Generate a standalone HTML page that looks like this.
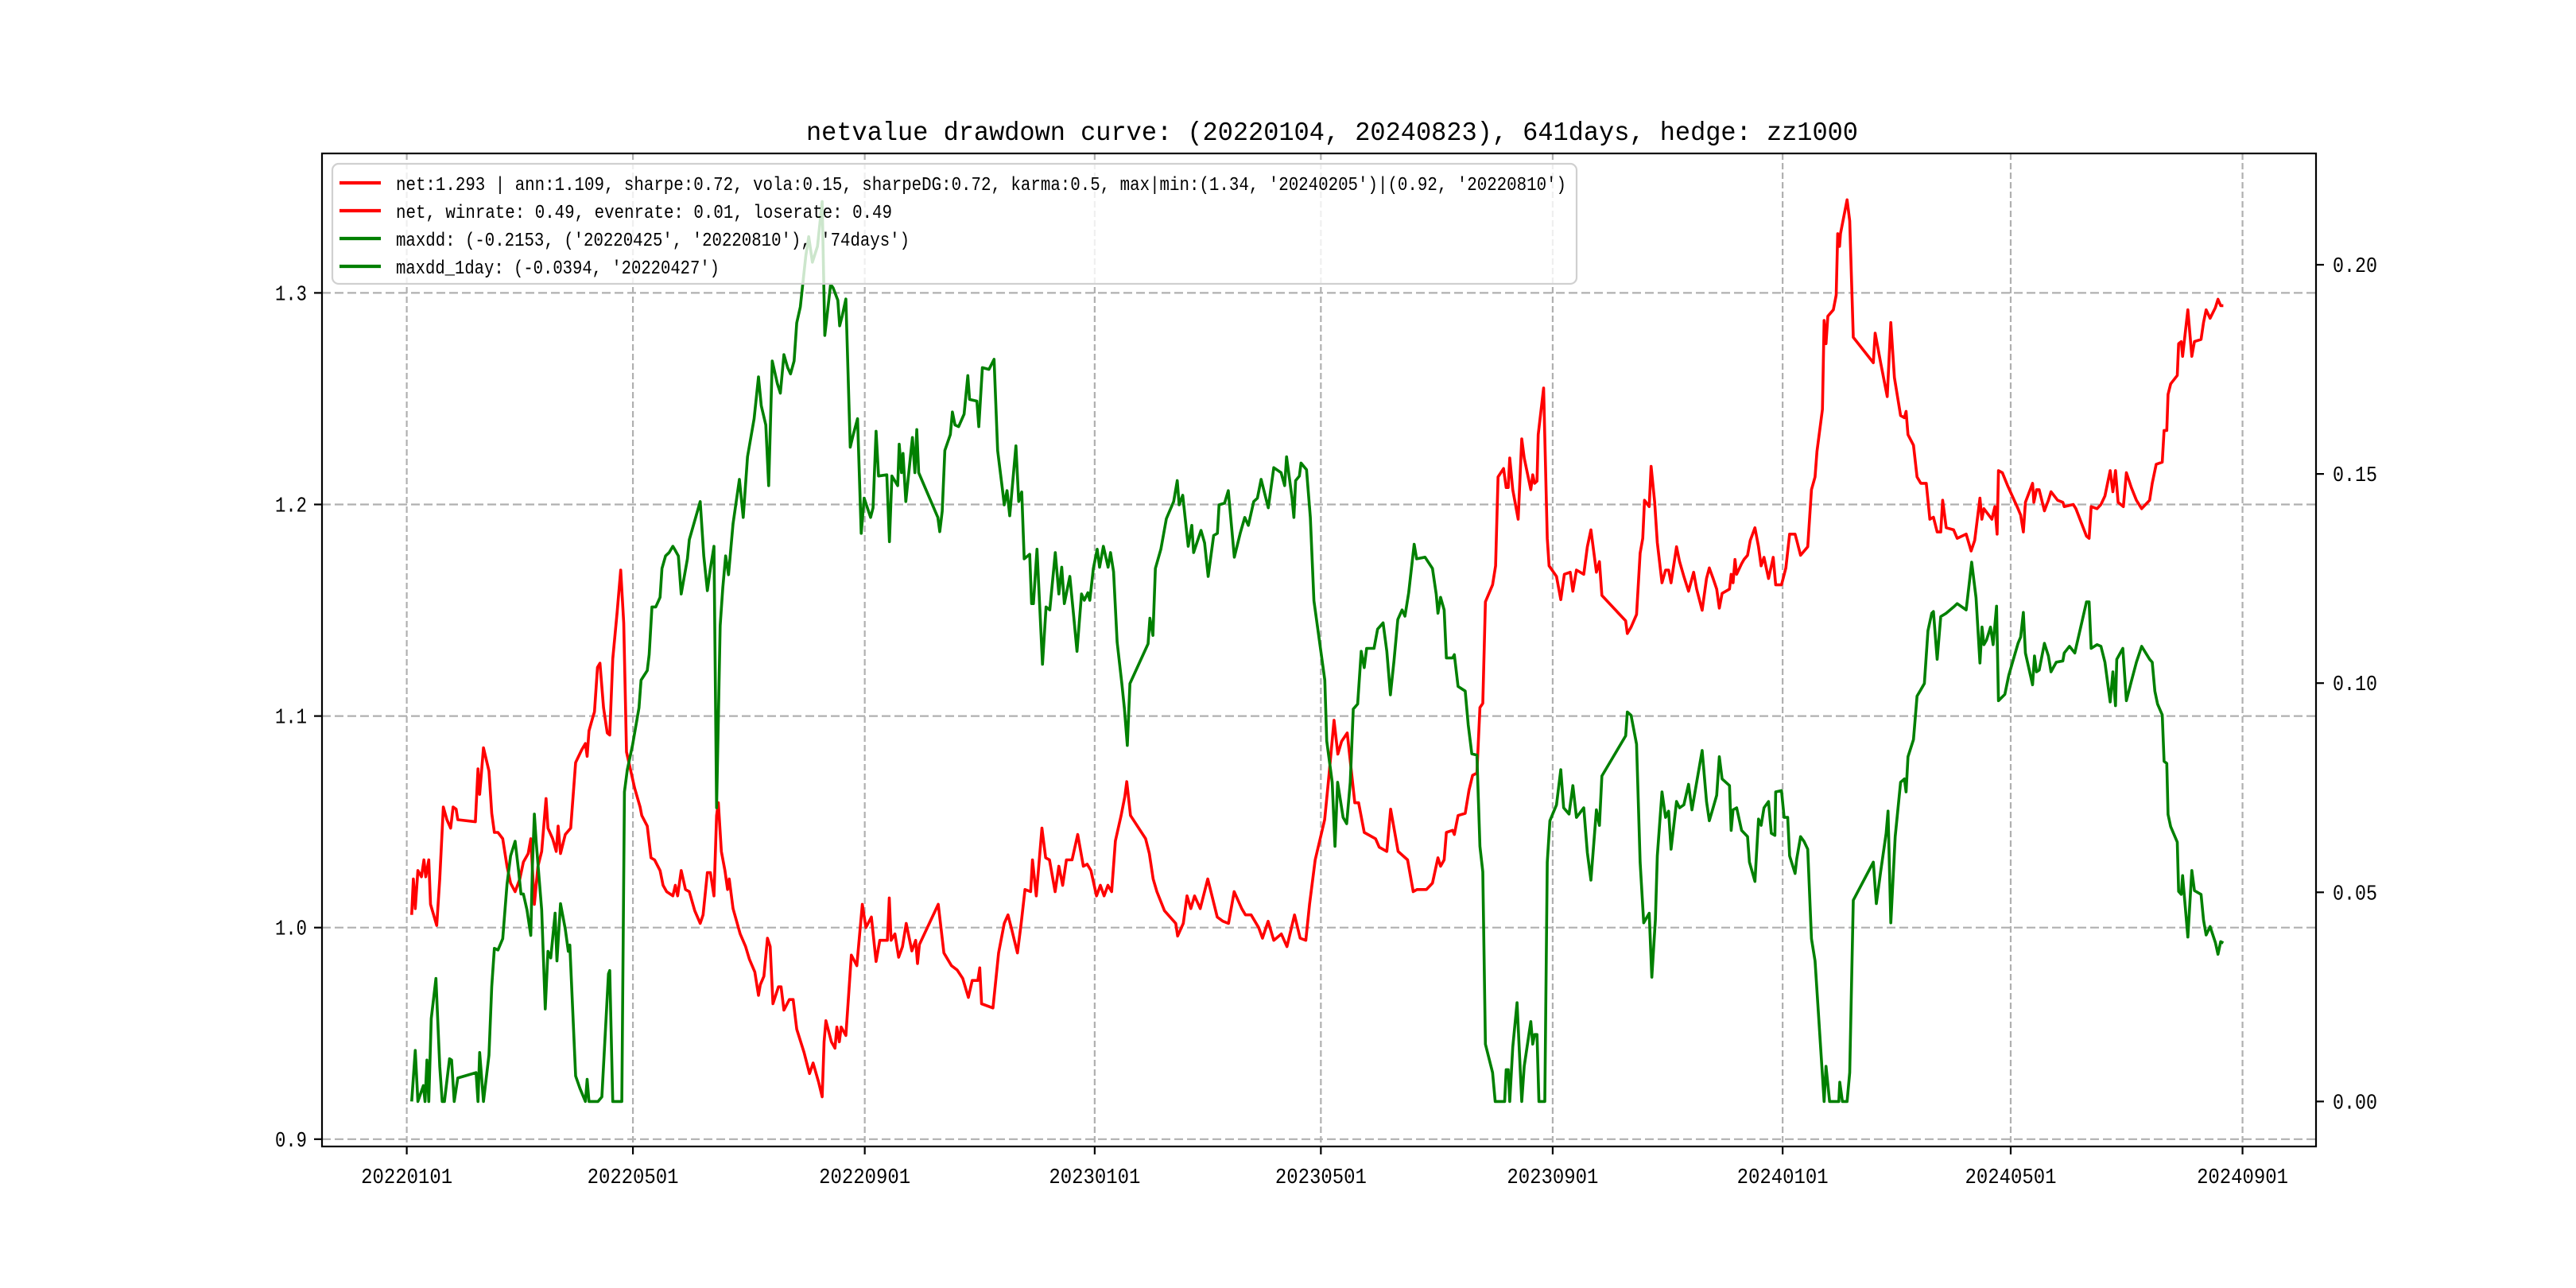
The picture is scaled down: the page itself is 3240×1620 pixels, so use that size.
<!DOCTYPE html>
<html><head><meta charset="utf-8"><title>netvalue drawdown curve</title>
<style>html,body{margin:0;padding:0;background:#fff}svg{display:block}
text{font-family:"Liberation Mono","DejaVu Sans Mono",monospace;fill:#000}</style></head>
<body>
<svg id="chart" xmlns="http://www.w3.org/2000/svg" width="3240" height="1620" viewBox="0 0 3240 1620">
<rect x="0" y="0" width="3240" height="1620" fill="#fff"/>
<g id="grid"></g>
<g id="series"></g>
<g id="axes"></g>
<text x="1014" y="176" font-size="33" textLength="1323" lengthAdjust="spacingAndGlyphs">netvalue drawdown curve: (20220104, 20240823), 641days, hedge: zz1000</text>
<g id="legend">
<rect x="418" y="206" width="1565" height="151" rx="8" fill="#fff" fill-opacity="0.8" stroke="#d0d0d0" stroke-width="2.2"/>
<line x1="427" y1="230" x2="479" y2="230" stroke="#ff0000" stroke-width="4.2"/>
<text x="498" y="239" font-size="24" textLength="1472" lengthAdjust="spacingAndGlyphs">net:1.293 | ann:1.109, sharpe:0.72, vola:0.15, sharpeDG:0.72, karma:0.5, max|min:(1.34, '20240205')|(0.92, '20220810')</text>
<line x1="427" y1="265" x2="479" y2="265" stroke="#ff0000" stroke-width="4.2"/>
<text x="498" y="274" font-size="24" textLength="624" lengthAdjust="spacingAndGlyphs">net, winrate: 0.49, evenrate: 0.01, loserate: 0.49</text>
<line x1="427" y1="300" x2="479" y2="300" stroke="#008000" stroke-width="4.2"/>
<text x="498" y="309" font-size="24" textLength="646" lengthAdjust="spacingAndGlyphs">maxdd: (-0.2153, ('20220425', '20220810'), '74days')</text>
<line x1="427" y1="335" x2="479" y2="335" stroke="#008000" stroke-width="4.2"/>
<text x="498" y="344" font-size="24" textLength="407" lengthAdjust="spacingAndGlyphs">maxdd_1day: (-0.0394, '20220427')</text>
</g>
</svg>
<script>
// x tick labels and their day offsets from 2022-01-01
const xTickLabels = ["20220101","20220501","20220901","20230101","20230501","20230901","20240101","20240501","20240901"];
const xTickDays = [0,120,243,365,485,608,730,851,974];
const leftTicks = [0.9,1.0,1.1,1.2,1.3];
const leftTickLabels = ["0.9","1.0","1.1","1.2","1.3"];
const rightTicks = [0,0.05,0.10,0.15,0.20];
const rightTickLabels = ["0.00","0.05","0.10","0.15","0.20"];
// net value series (days since 2022-01-01)
const netDays = [2.6,3.5,4.5,5.9,7.8,9.1,10.1,11.7,12.6,15.9,17.5,19.4,21.3,23.3,24.6,26.2,27.1,36.4,37.8,38.7,40.7,43.6,45.1,46.5,48.4,50.9,53.2,55.1,57.5,60.0,61.9,64.4,65.8,67.7,69.6,71.6,73.9,74.9,77.4,79.3,80.3,81.6,84.1,87.0,89.6,92.8,94.8,95.7,96.7,98.6,99.6,101.2,102.5,104.4,106.4,107.7,109.3,111.6,113.5,115.1,116.6,120.9,123.8,124.7,127.6,129.6,131.5,134.4,136.0,137.9,141.2,142.5,143.7,145.6,147.9,149.9,152.8,155.7,157.2,159.5,161.1,163.0,164.4,165.3,166.9,168.8,170.2,171.1,173.1,176.9,179.8,181.8,184.7,186.6,187.6,189.5,191.4,192.8,194.3,197.2,198.6,200.1,203.0,205.0,206.9,210.8,213.7,215.6,218.5,220.4,221.4,222.4,225.3,227.2,228.2,229.5,230.5,233.0,235.9,238.8,241.7,243.6,246.5,
249,251,255,256,257,259,261,263,265,268,270,271,272,282,285,289,292,295,298,300,303,304,305,311,314,317,319,321,324,326,328,331,332,334,337,339,341,344,346,348,350,353,356,359,361,363,366,368,370,372,374,376,379,381,382,384,392,394,396,398,402,408,409,412,414,416,418,421,425,430,433,436,439,443,445,448,452,454,457,460,464,467,471,474,477,479,482,487,489,492,494,496,499,503,505,508,514,516,520,522,526,531,534,536,541,
544.2,547.1,548.5,550.4,551.6,554.9,555.8,557.8,561.6,563.6,565.5,567.8,569.4,570.9,572.3,576.1,577.7,579.0,581.9,583.3,584.4,585.2,586.8,589.7,591.6,592.9,596.4,597.4,598.4,599.7,600.3,603.2,605.1,606.1,610.0,612.3,614.2,617.3,618.7,620.6,624.5,626.4,628.3,631.2,632.8,634.1,646.7,647.6,649.6,652.5,654.4,655.8,656.7,659.2,660.2,662.1,663.5,666.0,667.9,669.5,670.8,673.7,675.3,677.6,680.1,682.8,684.4,687.3,689.6,691.1,693.1,695.0,696.4,697.9,701.8,702.7,703.7,704.7,705.6,708.2,709.5,711.4,712.8,715.3,717.2,718.6,720.1,722.5,725.0,726.3,729.4,731.7,733.7,736.6,737.5,739.5,743.3,745.3,747.2,748.2,751.1,752.0,753.0,754.0,756.9,758.4,759.2,760.2,760.7,764.2,765.6,767.5,778.1,779.1,782.0,785.5,787.4,789.3,792.6,794.6,795.5,796.5,799.4,801.3,803.3,806.2,808.1,810.0,812.0,813.9,814.9,816.8,820.7,822.6,827.4,830.0,
831.9,834.7,835.7,836.8,841.0,842.6,843.8,844.5,846.6,849.3,854.9,856.3,857.7,858.8,862.6,863.3,864.7,866.1,868.9,871.0,872.4,875.9,878.7,879.4,884.2,885.6,891.2,892.6,893.7,896.8,898.9,901.0,903.8,905.2,906.6,908.0,910.8,912.4,915.0,917.7,920.5,924.7,926.1,928.2,931.4,932.4,933.8,934.5,935.9,939.4,940.1,941.5,942.2,945.0,947.1,948.5,952.0,953.3,954.7,956.8,959.6,961.0,962.4,963.8];
const netValues = [1.006,1.023,1.009,1.027,1.024,1.032,1.024,1.032,1.011,1.001,1.023,1.057,1.051,1.047,1.057,1.056,1.051,1.050,1.075,1.063,1.085,1.074,1.054,1.045,1.045,1.042,1.029,1.021,1.017,1.023,1.031,1.035,1.042,1.011,1.029,1.036,1.061,1.047,1.042,1.036,1.048,1.035,1.044,1.047,1.078,1.084,1.087,1.081,1.093,1.099,1.102,1.123,1.125,1.104,1.092,1.091,1.127,1.149,1.169,1.144,1.083,1.066,1.057,1.053,1.048,1.033,1.032,1.027,1.020,1.017,1.015,1.020,1.015,1.027,1.018,1.017,1.008,1.002,1.006,1.026,1.026,1.015,1.053,1.059,1.036,1.027,1.018,1.023,1.009,0.997,0.991,0.985,0.979,0.968,0.973,0.977,0.995,0.991,0.964,0.972,0.972,0.961,0.966,0.966,0.952,0.941,0.931,0.936,0.927,0.920,0.946,0.956,0.946,0.943,0.953,0.946,0.953,0.949,0.987,0.982,1.011,1.0,1.005,
0.984,0.994,0.994,1.014,0.994,0.997,0.986,0.991,1.002,0.989,0.994,0.983,0.992,1.011,0.988,0.982,0.980,0.976,0.967,0.975,0.975,0.981,0.964,0.962,0.988,1.002,1.006,0.999,0.988,1.002,1.018,1.017,1.032,1.015,1.047,1.033,1.032,1.017,1.029,1.020,1.032,1.032,1.044,1.029,1.030,1.027,1.015,1.020,1.015,1.020,1.017,1.041,1.053,1.062,1.069,1.053,1.042,1.035,1.023,1.017,1.008,1.002,0.996,1.002,1.015,1.009,1.015,1.009,1.023,1.005,1.003,1.002,1.017,1.009,1.006,1.006,1.0,0.995,1.003,0.994,0.997,0.991,1.006,0.995,0.994,1.011,1.032,1.051,1.069,1.098,1.082,1.088,1.092,1.059,1.059,1.045,1.042,1.038,1.036,1.056,1.036,1.032,1.017,1.018,1.018,
1.021,1.033,1.029,1.032,1.045,1.046,1.044,1.053,1.054,1.065,1.072,1.073,1.104,1.106,1.154,1.162,1.171,1.213,1.217,1.208,1.208,1.222,1.207,1.193,1.231,1.222,1.207,1.214,1.210,1.211,1.233,1.255,1.184,1.171,1.166,1.155,1.167,1.168,1.159,1.169,1.167,1.180,1.188,1.168,1.173,1.157,1.145,1.139,1.142,1.148,1.177,1.184,1.202,1.199,1.218,1.201,1.182,1.163,1.169,1.169,1.163,1.180,1.173,1.166,1.159,1.168,1.160,1.150,1.165,1.170,1.165,1.160,1.151,1.158,1.160,1.167,1.163,1.174,1.167,1.172,1.174,1.176,1.183,1.189,1.180,1.171,1.175,1.165,1.175,1.162,1.162,1.170,1.186,1.186,1.183,1.176,1.180,1.207,1.213,1.225,1.245,1.287,1.276,1.289,1.292,1.299,1.328,1.322,1.328,1.344,1.334,1.279,1.267,1.281,1.267,1.251,1.286,1.260,1.242,1.241,1.244,1.233,1.228,1.213,1.210,1.210,1.193,1.194,1.187,1.187,1.202,1.189,1.188,1.184,1.186,1.178,
1.183,1.203,1.193,1.198,1.193,1.199,1.186,1.216,1.215,1.209,1.198,1.195,1.187,1.201,1.210,1.201,1.207,1.207,1.197,1.202,1.206,1.202,1.201,1.199,1.200,1.198,1.185,1.184,1.199,1.198,1.200,1.204,1.216,1.206,1.216,1.201,1.199,1.215,1.208,1.202,1.198,1.202,1.210,1.219,1.220,1.235,1.235,1.252,1.257,1.261,1.276,1.277,1.270,1.292,1.270,1.277,1.278,1.286,1.292,1.288,1.293,1.297,1.294,1.294];
// drawdown series (right axis)
const ddDays = [2.6,4.5,5.9,8.8,9.7,10.7,11.7,13.0,15.5,17.5,18.8,20.0,22.7,23.8,25.2,27.1,36.8,37.8,38.7,40.7,43.6,45.1,46.5,48.4,50.9,53.2,55.1,57.5,59.4,60.6,61.9,63.8,65.8,66.7,67.7,68.7,71.6,73.5,74.9,76.4,78.7,79.7,81.6,84.1,85.7,86.5,89.6,91.9,94.8,95.7,96.7,101.5,103.5,107.0,107.7,109.3,114.1,115.5,117.0,119.9,123.2,124.3,127.6,128.6,130.1,132.1,134.4,135.4,137.3,139.2,141.2,142.1,144.1,145.6,148.9,149.9,155.7,157.6,159.5,161.1,163.0,164.4,166.3,167.7,169.2,170.7,173.1,176.5,178.5,180.8,184.3,186.6,188.1,190.5,192.0,193.9,196.6,198.2,200.1,202.1,203.6,205.5,206.9,208.8,211.7,213.3,215.2,217.9,220.4,221.8,224.9,226.2,228.7,229.7,231.0,233.0,235.3,236.9,239.2,241.1,242.7,246.1,
247.4,249.0,250.3,254.7,256.1,257.4,260.5,261.3,262.5,263.3,264.8,268.3,269.6,270.6,271.6,281.8,282.8,284.1,285.5,288.4,289.5,290.9,292.8,295.7,297.7,298.6,302.5,303.5,305.4,308.9,311.6,313.5,316.0,317.0,318.5,319.9,323.2,324.7,326.3,327.6,330.5,331.5,332.5,334.4,337.3,339.2,341.2,344.1,346.0,347.5,348.9,351.8,353.7,355.6,358.0,359.5,361.4,362.4,364.3,366.3,367.6,369.6,372.1,373.4,375.0,376.9,379.4,380.8,382.3,383.7,393.3,394.3,395.9,397.2,400.1,403.0,406.9,408.8,409.8,411.7,414.6,416.5,417.5,421.4,423.3,425.2,428.1,430.1,431.0,433.9,435.9,439.1,442.2,444.6,446.5,449.4,451.3,453.3,457.1,460.0,463.9,465.8,466.8,469.7,470.7,471.6,473.6,474.5,477.4,479.4,481.3,487.1,488.1,491.0,492.5,493.9,496.8,498.7,500.6,502.2,504.5,506.4,508.0,509.3,513.2,515.1,518.0,520.0,521.9,523.8,525.8,528.1,529.6,531.6,534.5,535.8,540.3,
544.2,546.2,547.1,548.5,550.4,551.6,554.9,555.8,557.8,561.6,563.2,565.1,567.8,569.4,570.9,572.3,576.1,577.5,582.5,583.3,584.4,585.2,586.8,589.1,591.6,592.9,596.4,597.4,598.4,599.7,600.7,603.8,605.1,606.5,610.0,612.3,613.8,616.7,618.7,620.6,624.5,626.4,628.3,631.2,632.8,634.1,646.7,647.6,649.6,652.5,654.4,656.3,659.2,660.6,662.5,663.5,666.0,667.9,669.5,670.8,673.7,675.3,677.6,680.1,681.9,684.4,687.3,689.6,691.1,693.1,695.0,696.4,697.9,701.8,702.7,703.7,705.6,708.2,711.4,712.4,715.3,717.2,718.6,720.1,722.5,724.0,725.9,726.3,729.4,730.8,732.7,733.7,736.6,737.5,739.5,741.4,743.3,745.3,747.2,752.0,753.0,754.9,759.8,760.3,761.7,764.2,765.6,767.5,778.1,779.7,782.0,784.9,785.9,787.4,789.7,792.6,794.6,795.5,796.5,799.4,801.3,803.3,805.2,807.1,809.1,810.0,812.0,813.9,816.8,820.7,822.6,827.4,830.3,
832.6,834.7,835.8,836.8,838.2,840.3,841.7,843.5,844.5,847.9,850.0,854.9,856.3,857.7,858.8,862.6,863.6,864.7,866.1,868.9,871.0,872.4,875.2,878.7,879.4,882.2,885.0,891.2,892.6,893.7,896.8,898.9,901.0,903.8,905.2,906.6,907.3,910.5,912.4,915.0,917.7,920.5,924.7,926.1,927.5,928.9,931.4,932.4,933.8,934.5,935.9,939.4,940.1,941.5,942.2,945.0,947.1,948.5,952.0,953.3,954.7,956.8,959.6,961.0,962.4,963.8];
const ddValues = [0,0.0122,0,0.0038,0,0.0099,0,0.0198,0.0294,0.0084,0,0,0.0102,0.0099,0,0.0056,0.0069,0,0.0117,0,0.0111,0.0275,0.0366,0.0362,0.0389,0.0519,0.0587,0.0622,0.0549,0.0496,0.0496,0.0458,0.0397,0.0565,0.0687,0.0618,0.0458,0.0221,0.0359,0.0343,0.0450,0.0336,0.0473,0.0412,0.0359,0.0374,0.0061,0.0031,0,0.0053,0,0,0.0011,0.0305,0.0313,0,0,0.0740,0.0793,0.0854,0.0941,0.1007,0.1030,0.1068,0.1182,0.1182,0.1205,0.1274,0.1304,0.1312,0.1327,0.1320,0.1304,0.1213,0.1297,0.1343,0.1434,0.1304,0.1221,0.1274,0.1327,0.0702,0.1137,0.1228,0.1304,0.1259,0.1381,0.1487,0.1396,0.1541,0.1632,0.1732,0.1663,0.1617,0.1472,0.1770,0.1716,0.1693,0.1785,0.1754,0.1739,0.1770,0.1861,0.1899,0.2021,0.2067,0.2006,0.2044,0.2151,0.1831,0.1953,0.1945,0.1915,0.1854,0.1877,0.1918,0.1564,0.1594,0.1632,0.1358,0.1442,0.1396,
0.1419,0.1602,0.1495,0.1498,0.1338,0.1495,0.1472,0.1571,0.1503,0.1549,0.1434,0.1587,0.1503,0.1606,0.1503,0.1396,0.1362,0.1411,0.1556,0.1594,0.1648,0.1617,0.1613,0.1643,0.1735,0.1678,0.1674,0.1613,0.1754,0.1750,0.1774,0.1556,0.1465,0.1426,0.1460,0.1400,0.1567,0.1434,0.1457,0.1297,0.1308,0.1190,0.1190,0.1320,0.1045,0.1182,0.1175,0.1312,0.1213,0.1277,0.1190,0.1255,0.1167,0.1076,0.1213,0.1198,0.1216,0.1198,0.1274,0.1320,0.1277,0.1327,0.1277,0.1312,0.1266,0.1098,0.0999,0.0938,0.0851,0.0999,0.1094,0.1155,0.1114,0.1274,0.1320,0.1393,0.1434,0.1484,0.1426,0.1449,0.1327,0.1377,0.1312,0.1365,0.1335,0.1255,0.1353,0.1358,0.1426,0.1430,0.1460,0.1301,0.1358,0.1396,0.1377,0.1434,0.1442,0.1487,0.1419,0.1515,0.1503,0.1472,0.1541,0.1442,0.1396,0.1484,0.1495,0.1526,0.1510,0.1396,0.1197,0.1007,0.0862,0.0763,0.0610,0.0763,0.0679,0.0664,0.0763,0.0938,0.0950,0.1076,0.1037,0.1083,0.1083,0.1129,0.1144,0.1076,0.0972,0.1053,0.1152,0.1175,0.1160,0.1216,0.1332,0.1297,0.1301,
0.1274,0.1213,0.1167,0.1205,0.1175,0.1060,0.1060,0.1068,0.0992,0.0981,0.0900,0.0831,0.0828,0.0610,0.0549,0.0137,0.0069,0,0,0.0076,0.0076,0,0.0130,0.0236,0,0.0084,0.0191,0.0137,0.0160,0.0160,0,0,0.0572,0.0671,0.0709,0.0793,0.0702,0.0687,0.0755,0.0679,0.0702,0.0595,0.0529,0.0697,0.0660,0.0778,0.0874,0.0931,0.0923,0.0854,0.0572,0.0427,0.0450,0.0297,0.0435,0.0587,0.0740,0.0679,0.0694,0.0603,0.0717,0.0702,0.0709,0.0758,0.0697,0.0763,0.0839,0.0717,0.0671,0.0702,0.0732,0.0824,0.0771,0.0755,0.0648,0.0697,0.0702,0.0648,0.0633,0.0572,0.0526,0.0675,0.0660,0.0702,0.0717,0.0641,0.0636,0.0740,0.0743,0.0679,0.0679,0.0587,0.0545,0.0580,0.0633,0.0621,0.0603,0.0389,0.0336,0,0.0084,0,0,0.0046,0,0,0.0069,0.0481,0.0572,0.0473,0.0549,0.0641,0.0694,0.0427,0.0633,0.0763,0.0771,0.0740,0.0824,0.0865,0.0969,0.0984,0.0999,0.1125,0.1167,0.1171,0.1057,0.1159,0.1167,0.1182,0.1190,0.1175,0.1289,
0.1204,0.1048,0.1134,0.1092,0.1103,0.1134,0.1092,0.1184,0.0958,0.0973,0.1019,0.1095,0.1110,0.1169,0.1072,0.0996,0.1065,0.1027,0.1031,0.1095,0.1065,0.1027,0.1050,0.1053,0.1072,0.1088,0.1072,0.1194,0.1194,0.1083,0.1092,0.1088,0.1050,0.0955,0.1027,0.0946,0.1057,0.1083,0.0958,0.1004,0.1050,0.1088,0.1057,0.1050,0.0981,0.0950,0.0924,0.0813,0.0808,0.0686,0.0657,0.0620,0.0502,0.0495,0.0540,0.0393,0.0552,0.0504,0.0495,0.0434,0.0398,0.0418,0.0380,0.0352,0.0382,0.0379];

const NS = "http://www.w3.org/2000/svg";
const PL = 405, PR = 2913, PT = 193, PB = 1442;
function xScale(d){ return 511.6 + d * 2.3706; }
function yLeft(v){ return 1166.7 - (v - 1) * 2661; }
function yRight(v){ return 1385.4 - v * 5262; }
function mk(tag, attrs, parent){
  const el = document.createElementNS(NS, tag);
  for (const k in attrs) el.setAttribute(k, attrs[k]);
  parent.appendChild(el);
  return el;
}
const grid = document.getElementById('grid');
const axes = document.getElementById('axes');
const series = document.getElementById('series');

xTickDays.forEach((d, i) => {
  const x = xScale(d);
  const gl = mk('line', {x1:x, y1:PT, x2:x, y2:PB, stroke:'#b0b0b0', 'stroke-width':2.2, 'stroke-dasharray':'8,4'}, grid);
  
  
  const tk = mk('line', {x1:x, y1:PB, x2:x, y2:PB+10, stroke:'#000', 'stroke-width':2.2}, axes);
  
  
  const t = mk('text', {x:x, y:PB+46, 'font-size':27, 'text-anchor':'middle', textLength:115, lengthAdjust:'spacingAndGlyphs'}, axes);
  t.textContent = xTickLabels[i];
  
  
});
leftTicks.forEach((v, i) => {
  const y = yLeft(v);
  const gl = mk('line', {x1:PL, y1:y, x2:PR, y2:y, stroke:'#b0b0b0', 'stroke-width':2.2, 'stroke-dasharray':'11,5'}, grid);
  
  
  const tk = mk('line', {x1:PL-10, y1:y, x2:PL, y2:y, stroke:'#000', 'stroke-width':2.2}, axes);
  
  
  const t = mk('text', {x:PL-19, y:y+9, 'font-size':27, 'text-anchor':'end', textLength:40, lengthAdjust:'spacingAndGlyphs'}, axes);
  t.textContent = leftTickLabels[i];
  
  
});
rightTicks.forEach((v, i) => {
  const y = yRight(v);
  const tk = mk('line', {x1:PR, y1:y, x2:PR+10, y2:y, stroke:'#000', 'stroke-width':2.2}, axes);
  
  
  const t = mk('text', {x:PR+21, y:y+9, 'font-size':27, textLength:56, lengthAdjust:'spacingAndGlyphs'}, axes);
  t.textContent = rightTickLabels[i];
  
  
});
const spine = mk('rect', {x:PL, y:PT, width:PR-PL, height:PB-PT, fill:'none', stroke:'#000', 'stroke-width':2.2}, axes);



function pathFor(days, vals, yf){
  const n = Math.min(days.length, vals.length);
  let d = '';
  for (let i = 0; i < n; i++) d += (i ? 'L' : 'M') + xScale(days[i]).toFixed(1) + ',' + yf(vals[i]).toFixed(1);
  return d;
}
const netLine = mk('path', {d:pathFor(netDays, netValues, yLeft), fill:'none', stroke:'#ff0000', 'stroke-width':3.6, 'stroke-linejoin':'round'}, series);


const ddLine = mk('path', {d:pathFor(ddDays, ddValues, yRight), fill:'none', stroke:'#008000', 'stroke-width':3.6, 'stroke-linejoin':'round'}, series);


</script>
</body></html>
